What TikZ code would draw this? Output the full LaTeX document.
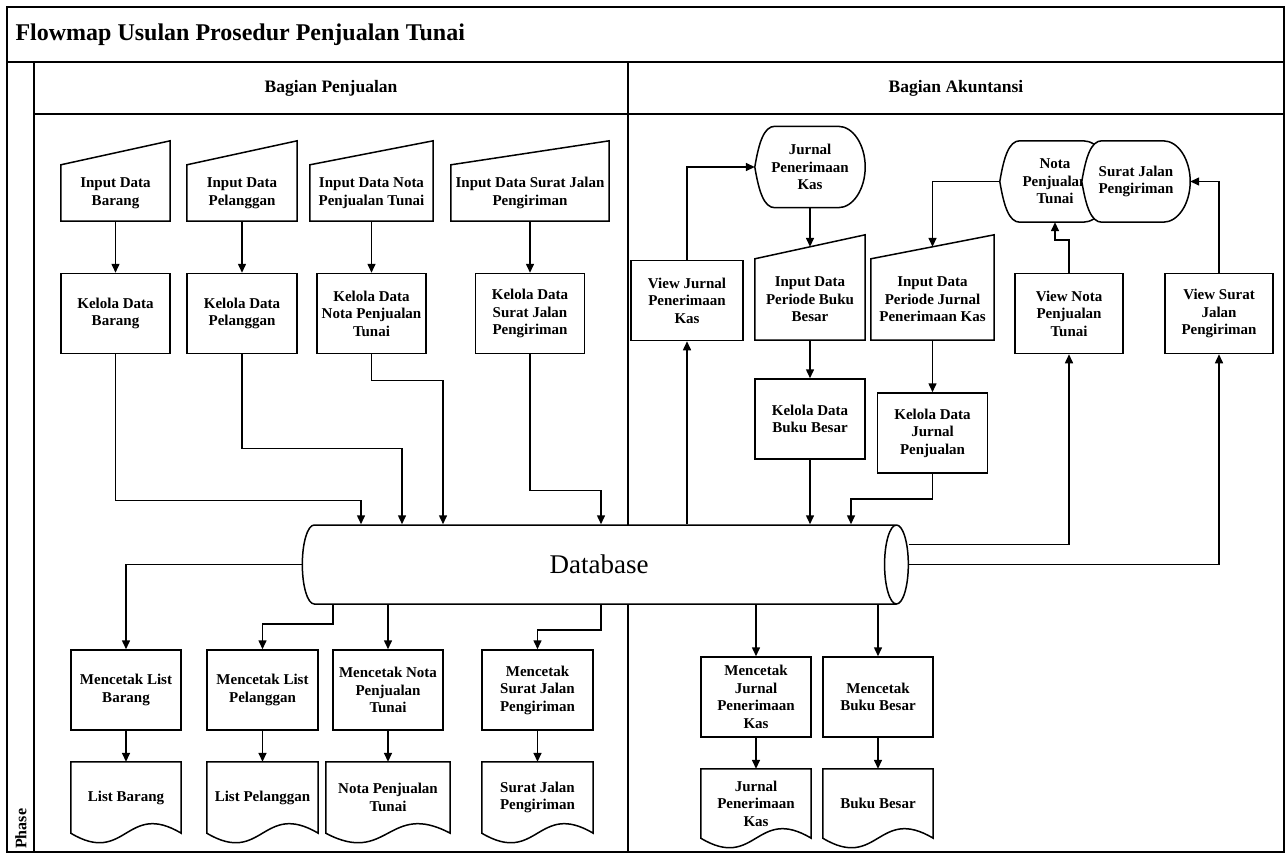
\documentclass[tikz,border=0pt]{standalone}
\usepackage{fontspec}
\setmainfont{Liberation Serif}
\usetikzlibrary{shapes.geometric,arrows.meta}

\tikzset{
  lbl/.style={align=center, inner sep=2pt, font=\bfseries\fontsize{15}{17.5}\selectfont},
  proc/.style={lbl, draw, line width=1.5pt, minimum height=80pt, minimum width=110pt},
  minbox/.style={lbl, minimum height=56pt, minimum width=110pt},
  docbox/.style={lbl, minimum height=71pt, minimum width=110pt},
  dispbox/.style={lbl, minimum height=81pt, minimum width=110pt},
  dbstore/.style={cylinder, draw, fill=white, line width=1.5pt, aspect=1.25,
    minimum height=606pt, minimum width=79pt, inner sep=0pt,
    font=\fontsize{27}{30}\selectfont},
  arr/.style={-{Triangle[length=9pt,width=8pt]}, line width=1.5pt},
  lane/.style={line width=2pt},
}
% manual input, document and display outlines around a named node
\newcommand{\manpath}[1]{\draw[line width=1.5pt] (#1.south west) -- (#1.south east) -- ([yshift=24pt]#1.north east) -- (#1.north west) -- cycle;}
\newcommand{\docpath}[1]{\draw[line width=1.5pt] (#1.south west) -- (#1.north west) -- (#1.north east) -- (#1.south east) .. controls ([yshift=33pt]#1.south) and ([yshift=-33pt]#1.south) .. (#1.south west) -- cycle;}
\newcommand{\disppath}[2][]{\draw[line width=1.5pt,#1] (#2.west) .. controls ([xshift=4pt,yshift=24pt]#2.west) and ([xshift=9pt]#2.north west) .. ([xshift=20pt]#2.north west) -- ([xshift=-27pt]#2.north east) .. controls ([xshift=-12pt]#2.north east) and ([yshift=22pt]#2.east) .. (#2.east) .. controls ([yshift=-22pt]#2.east) and ([xshift=-12pt]#2.south east) .. ([xshift=-27pt]#2.south east) -- ([xshift=20pt]#2.south west) .. controls ([xshift=9pt]#2.south west) and ([xshift=4pt,yshift=-24pt]#2.west) .. (#2.west) -- cycle;}

\begin{document}
\begin{tikzpicture}[x=1pt,y=-1pt]
	\useasboundingbox (0,0) rectangle (1287,854);
	
	% swimlanes
	\draw[lane] (7,7) rectangle (1284,852);
	\draw[lane] (7,62) -- (1284,62);
	\draw[lane] (34,62) -- (34,852);
	\draw[lane] (34,114) -- (1284,114);
	\draw[lane] (628,62) -- (628,852);
	\node[anchor=west, font=\bfseries\fontsize{24}{28}\selectfont] (ttl) at (12,35) {Flowmap Usulan Prosedur Penjualan Tunai};
	\node[font=\bfseries\fontsize{17.5}{20}\selectfont] (lpj) at (331,88) {Bagian Penjualan};
	\node[font=\bfseries\fontsize{17.5}{20}\selectfont] (lak) at (956,88) {Bagian Akuntansi};
	\node[rotate=90, anchor=west, inner sep=0pt, font=\bfseries\fontsize{16}{18}\selectfont] (phs) at (21,849) {Phase};
	
	% bagian penjualan: input
	\node[minbox, minimum width=109pt] (in1) at (115.5,193) {Input Data\\Barang};
	\node[minbox] (in2) at (242,193) {Input Data\\Pelanggan};
	\node[minbox, minimum width=123pt] (in3) at (371.5,193) {Input Data Nota\\Penjualan Tunai};
	\node[minbox, minimum width=158pt] (in4) at (530,193) {Input Data Surat Jalan\\Pengiriman};
	\foreach \n in {in1,in2,in3,in4} {\manpath{\n}}
	
	% bagian penjualan: kelola
	\node[proc, minimum width=109pt] (kl1) at (115.5,313.5) {Kelola Data\\Barang};
	\node[proc] (kl2) at (242,313.5) {Kelola Data\\Pelanggan};
	\node[proc, minimum width=109pt] (kl3) at (371.5,313.5) {Kelola Data\\Nota Penjualan\\Tunai};
	\node[proc, minimum width=109pt] (kl4) at (530,313.5) {Kelola Data\\Surat Jalan\\Pengiriman};
	
	% database
	\node[dbstore] (db) at (599,564.5) {Database};
	
	% bagian penjualan: cetak
	\node[proc] (cl1) at (126,690) {Mencetak List\\Barang};
	\node[proc, minimum width=111pt] (cl2) at (262.5,690) {Mencetak List\\Pelanggan};
	\node[proc] (cl3) at (388,690) {Mencetak Nota\\Penjualan\\Tunai};
	\node[proc, minimum width=111pt] (cl4) at (537.5,690) {Mencetak\\Surat Jalan\\Pengiriman};
	\node[docbox] (ls1) at (126,797.5) {List Barang};
	\node[docbox, minimum width=111pt] (ls2) at (262.5,797.5) {List Pelanggan};
	\node[docbox, minimum width=124pt] (ls3) at (388,797.5) {Nota Penjualan\\Tunai};
	\node[docbox, minimum width=111pt] (ls4) at (537.5,797.5) {Surat Jalan\\Pengiriman};
	
	% bagian akuntansi
	\node[proc, minimum width=112pt] (vj) at (687,300.5) {View Jurnal\\Penerimaan\\Kas};
	\node[dispbox] (jpk) at (810,167) {Jurnal\\Penerimaan\\Kas};
	\node[minbox, minimum height=81pt] (inbb) at (810,299.5) {Input Data\\Periode Buku\\Besar};
	\node[minbox, minimum height=81pt, minimum width=123pt] (inpj) at (932.5,299.5) {Input Data\\Periode Jurnal\\Penerimaan Kas};
	\node[proc] (kbb) at (810,419) {Kelola Data\\Buku Besar};
	\node[proc] (kjp) at (932.5,433) {Kelola Data\\Jurnal\\Penjualan};
	\node[dispbox] (nota) at (1055,181.5) {Nota\\Penjualan\\Tunai};
	\node[dispbox, minimum width=108pt] (surat) at (1136,181.5) {};
	\node[proc, minimum width=108pt] (vn) at (1069,313.5) {View Nota\\Penjualan\\Tunai};
	\node[proc, minimum width=108pt] (vs) at (1219,313.5) {View Surat\\Jalan\\Pengiriman};
	\node[proc] (cj) at (756,697) {Mencetak\\Jurnal\\Penerimaan\\Kas};
	\node[proc] (cb) at (878,697) {Mencetak\\Buku Besar};
	\node[docbox, minimum height=69pt] (dj) at (756,803.5) {Jurnal\\Penerimaan\\Kas};
	\node[docbox, minimum height=69pt] (dbb) at (878,803.5) {Buku Besar};
	\manpath{inbb}
	\manpath{inpj}
	\foreach \n in {ls1,ls2,ls3,ls4,dj,dbb} {\docpath{\n}}
	\disppath{jpk}
	\disppath{nota}
	\disppath[fill=white]{surat}
	\node[lbl] (surtx) at (surat) {Surat Jalan\\Pengiriman};
	
	% input ke kelola
	\foreach \a/\b in {in1/kl1,in2/kl2,in3/kl3,in4/kl4} {\draw[arr] (\a.south) -- (\b.north);}
	% kelola ke database
	\draw[arr] (kl1.south) -- ++(0,146) -| ([xshift=-238pt]db.north);
	\draw[arr] (kl2.south) -- ++(0,94) -| ([xshift=-197pt]db.north);
	\draw[arr] (kl3.south) -- ++(0,26) -| ([xshift=-156pt]db.north);
	\draw[arr] (kl4.south) -- ++(0,136) -| ([xshift=2pt]db.north);
	% database ke cetak
	\draw[arr] (db.west) -| (cl1.north);
	\draw[arr] ([xshift=-266pt]db.south) -- ++(0,19) -| (cl2.north);
	\draw[arr] (db.south -| cl3.north) -- (cl3.north);
	\draw[arr] ([xshift=2pt]db.south) -- ++(0,25) -| (cl4.north);
	\draw[arr] (db.south -| cj.north) -- (cj.north);
	\draw[arr] (db.south -| cb.north) -- (cb.north);
	\foreach \a/\b in {cl1/ls1,cl2/ls2,cl3/ls3,cl4/ls4,cj/dj,cb/dbb} {\draw[arr] (\a.south) -- (\b.north);}
	% akuntansi
	\draw[arr] (db.north -| vj.south) -- (vj.south);
	\draw[arr] (vj.north) |- (jpk.west);
	\draw[arr] (jpk.south) -- ([yshift=12pt]inbb.north);
	\draw[arr] (inbb.south) -- (kbb.north);
	\draw[arr] (kbb.south) -- (kbb.south |- db.north);
	\draw[arr] (nota.west) -| ([yshift=12pt]inpj.north);
	\draw[arr] (inpj.south) -- (kjp.north);
	\draw[arr] (kjp.south) -- ++(0,25) -| ([xshift=252pt]db.north);
	\draw[arr] ([yshift=20pt]db.east) -| (vn.south);
	\draw[arr] (db.east) -| (vs.south);
	\draw[arr] (vn.north) -- ++(0,-33) -| (nota.south);
	\draw[arr] (vs.north) |- (surat.east);
\end{tikzpicture}
\end{document}
